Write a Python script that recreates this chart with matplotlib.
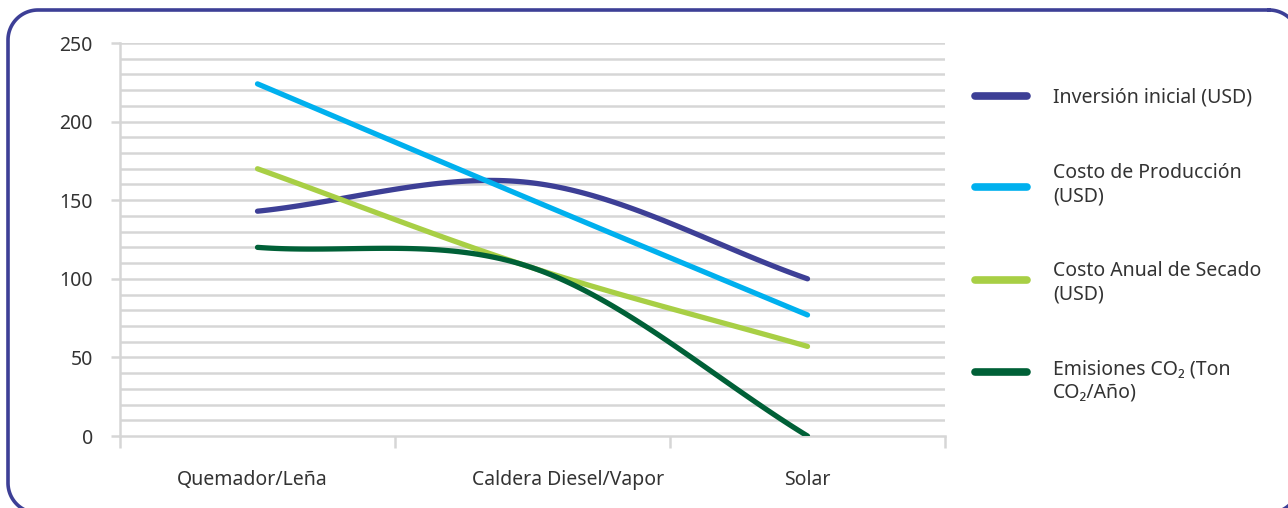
import numpy as np
import matplotlib
matplotlib.use("Agg")
import matplotlib.pyplot as plt
from matplotlib.lines import Line2D

plt.rcParams["font.family"] = ["Noto Sans", "DejaVu Sans"]

categories = ["Quemador/Leña", "Caldera Diesel/Vapor", "Solar"]
series_labels = [
    "Inversión inicial (USD)",
    "Costo de Producción\n(USD)",
    "Costo Anual de Secado\n(USD)",
    "Emisiones CO₂ (Ton\nCO₂/Año)",
]
inversion = [143, 161, 100]
costo_produccion = [224, 150, 77]
costo_anual = [170, 107, 57]
emisiones = [120, 107, 0]
yticks = [0, 50, 100, 150, 200, 250]

colors = ["#3d3f96", "#00b0ee", "#a8cf45", "#006037"]
grid_c = "#d6d6d6"
text_c = "#333333"


def smooth(y, n=60):
    """Hermite curve through the points, Excel-style smoothed line."""
    y = np.asarray(y, dtype=float)
    k = len(y)
    m = np.empty(k)
    m[1:-1] = (y[2:] - y[:-2]) / 2.0
    m[0] = y[1] - y[0]
    m[-1] = y[-1] - y[-2]
    t = np.linspace(0, 1, n)
    h00 = 2 * t**3 - 3 * t**2 + 1
    h10 = t**3 - 2 * t**2 + t
    h01 = -2 * t**3 + 3 * t**2
    h11 = t**3 - t**2
    xs, ys = [], []
    for i in range(k - 1):
        xs.append(i + t)
        ys.append(h00 * y[i] + h10 * m[i] + h01 * y[i + 1] + h11 * m[i + 1])
    return np.concatenate(xs), np.concatenate(ys)


def rounded_rect(x0, y0, x1, y1, r, n=30):
    """Polyline outline of a rounded rectangle (y grows downward)."""
    corners = [(x1 - r, y0 + r, -90), (x1 - r, y1 - r, 0),
               (x0 + r, y1 - r, 90), (x0 + r, y0 + r, 180)]
    px, py = [], []
    for cx, cy, a0 in corners:
        a = np.radians(np.linspace(a0, a0 + 90, n))
        px.append(cx + r * np.cos(a))
        py.append(cy + r * np.sin(a))
    px, py = np.concatenate(px), np.concatenate(py)
    return np.append(px, px[0]), np.append(py, py[0])


W, H = 1288, 508
fig = plt.figure(figsize=(W / 100, H / 100), dpi=100)

# background axes in pixel units for the rounded frame
bg = fig.add_axes([0, 0, 1, 1])
bg.set_xlim(0, W)
bg.set_ylim(H, 0)
bg.axis("off")
fx, fy = rounded_rect(8, 10, 1299, 513, 30)
bg.plot(fx, fy, color="#3d3f96", lw=2.6, clip_on=False)

ax = fig.add_axes([120 / W, (H - 436) / H, (945 - 120) / W, (436 - 43) / H])
ax.set_xlim(-0.5, 2.5)
ax.set_ylim(0, 250)
ax.patch.set_alpha(0)

for yv in range(10, 251, 10):
    ax.axhline(yv, color=grid_c, lw=1.8, zorder=0)

for s in ["top", "right"]:
    ax.spines[s].set_visible(False)
for s in ["left", "bottom"]:
    ax.spines[s].set_color(grid_c)
    ax.spines[s].set_linewidth(1.8)

ax.set_yticks(yticks)
ax.set_yticklabels([str(v) for v in yticks])
ax.tick_params(axis="y", length=6.5, width=1.8, color=grid_c,
               labelsize=14, labelcolor=text_c, pad=13)
ax.set_xticks([-0.5, 0.5, 1.5, 2.5])
ax.set_xticklabels([])
ax.tick_params(axis="x", length=8.5, width=1.8, color=grid_c)

label_shift = [-0.02, 0.13, 0.0]
for i, name in enumerate(categories):
    ax.text(i + label_shift[i], -28, name, ha="center", va="center",
            fontsize=14, color=text_c, clip_on=False)

for vals, c in zip([inversion, costo_produccion, costo_anual, emisiones], colors):
    sx, sy = smooth(vals)
    ax.plot(sx, sy, color=c, lw=3.8, solid_capstyle="round", zorder=3)

# legend on the right
leg_y = [96, 187, 280, 372]
txt_y = [97, 185, 283, 381]
for lab, c, ly, ty in zip(series_labels, colors, leg_y, txt_y):
    fig.add_artist(Line2D([975 / W, 1027 / W], [1 - ly / H, 1 - ly / H],
                          color=c, lw=5.5, solid_capstyle="round",
                          transform=fig.transFigure))
    fig.text(1053 / W, 1 - ty / H, lab, ha="left", va="center",
             fontsize=14, color=text_c, linespacing=1.2)

fig.savefig("out.png", dpi=100)
